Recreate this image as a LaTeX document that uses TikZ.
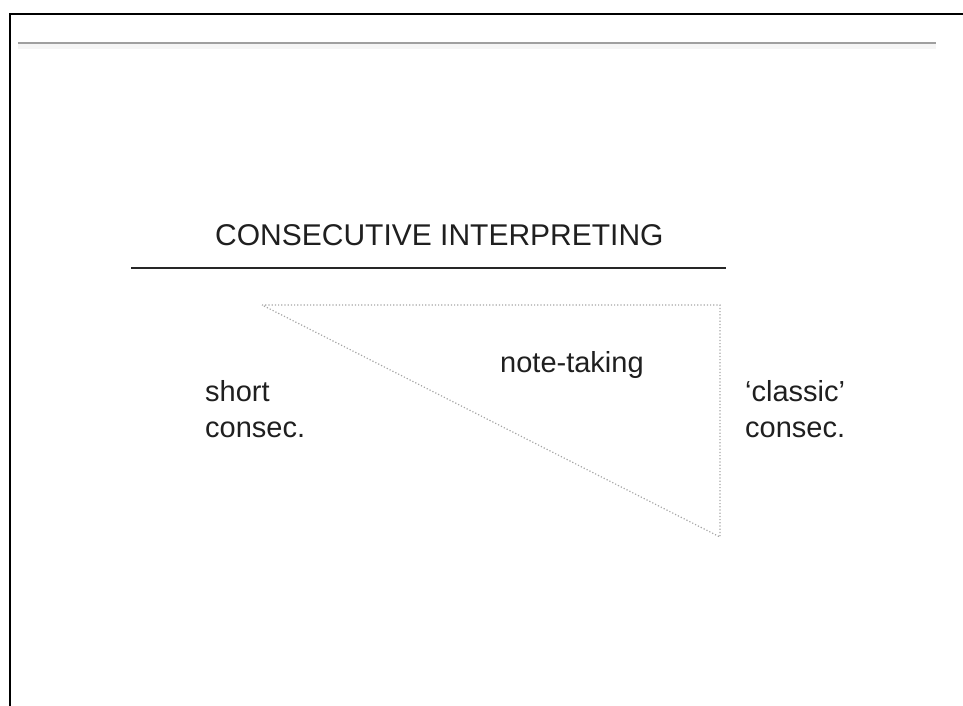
\documentclass[tikz,border=0pt]{standalone}
\usepackage{fontspec}
\setmainfont{Liberation Sans}

\tikzset{
  label/.style={inner sep=0pt, anchor=base west, text=black!88, font=\fontsize{29}{36}\selectfont, align=left},
  tri/.style={gray!70, dotted, line width=1.2pt}
}

\begin{document}
\begin{tikzpicture}[x=1pt,y=-1pt]
\useasboundingbox (0,0) rectangle (963,706);

% frame and top rule
\draw [line width=2pt] (9.5,706) -- (9.5,14) -- (963,14);
\draw [gray!8, line width=5pt] (18,47) -- (936,47);
\draw [gray!75, line width=2pt] (18,43) -- (936,43);

% heading
\node [label, font=\fontsize{30}{36}\selectfont] (title) at (215,245) {CONSECUTIVE INTERPRETING};
\draw [black!85, line width=2.8pt] (131,268) -- (726,268);

% triangle
\draw [tri] (262,305) -- (720,305) -- (720,537) -- cycle;

% labels (base is the last line)
\node [label] (notes) at (500,372) {note-taking};
\node [label] (short) at (205,437) {short\\consec.};
\node [label] (classic) at (745,437) {`classic'\\consec.};

\end{tikzpicture}
\end{document}
